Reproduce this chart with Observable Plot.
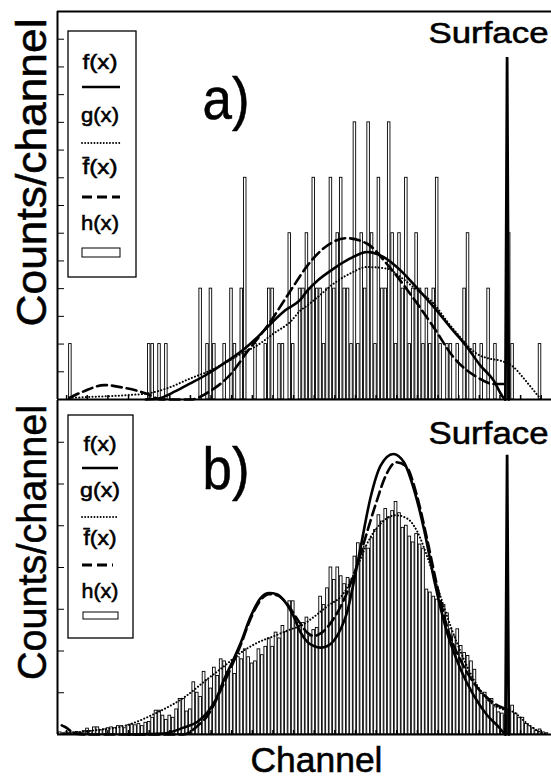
<!DOCTYPE html>
<html><head><meta charset="utf-8">
<script src="https://cdn.jsdelivr.net/npm/d3@7"></script>
<script src="https://cdn.jsdelivr.net/npm/@observablehq/plot@0.6"></script>
<style>
html,body{margin:0;padding:0;background:#fff;overflow:hidden}
#chart svg{display:block}
#chart text{stroke:#000;stroke-width:0.55px}
</style></head><body><div id="chart"></div>
<script>
// ---------- data (x in channel-bin units, y in counts / tick units) ----------
const countsTop = [
 0,0,0,1,0,0,0,0,0,0, 0,0,0,0,0,0,0,0,0,0, 0,0,0,0,0,0,1,1,0,1,
 0,1,0,0,0,0,0,0,0,0, 0,2,0,1,2,1,0,0,1,0, 2,1,0,2,4,0,0,1,0,0,
 1,2,2,0,1,1,0,3,1,0, 2,2,3,2,4,2,2,1,2,4, 2,3,4,2,2,1,5,1,3,2,
 5,3,1,4,2,2,5,3,1,3, 2,4,1,2,3,2,1,2,1,2, 4,1,0,1,1,0,1,0,2,3,
 0,1,0,1,0,2,0,1,0,0, 0,3,1,0,0,0,0,0,0,0, 1,0,0];
const countsBottom = [
 0.05,0.03,0.05,0.03,0.05,0.06,0.04,0.08,0.14,0.08,
 0.17,0.17,0.1,0.12,0.15,0.17,0.15,0.2,0.2,0.15,
 0.22,0.24,0.22,0.25,0.2,0.28,0.3,0.4,0.57,0.57,
 0.45,0.35,0.45,0.4,0.6,0.85,0.85,0.55,0.6,1.25,
 1.0,0.9,1.5,1.3,1.1,1.6,1.4,1.8,1.75,1.5,
 1.6,1.45,1.85,1.8,2.04,1.85,1.7,1.75,2.04,1.9,
 2.1,2.3,2.1,2.44,2.3,2.6,2.45,3.19,3.19,2.67,
 2.6,2.67,2.8,2.35,2.5,2.55,3.3,3.1,3.5,4.0,
 3.7,4.0,3.79,3.6,3.75,3.71,4.26,4.58,4.4,4.5,
 4.45,4.7,4.9,5.25,5.1,5.4,5.2,5.35,5.57,5.3,
 4.95,5.0,4.74,4.6,4.8,4.55,4.45,3.47,3.4,3.3,
 3.23,3.15,3.1,2.9,2.52,2.35,2.52,2.12,1.95,1.88,
 1.75,1.55,1.1,0.97,1.0,0.8,0.85,0.65,0.53,0.5,
 0.45,0.6,0.69,0.5,0.4,0.4,0.25,0.2,0.15,0.08,
 0.12,0.05,0.03];

// f(x) solid, g(x) dotted, fbar(x) dashed — panel a
const fTop = [[25,0],[28,0.01],[33.7,0.15],[38,0.29],[43,0.46],[48,0.66],[53.7,0.91],[57.5,1.12],[61.5,1.37],[65.5,1.6],[70.1,1.8],[72.2,1.97],[75,2.14],[79.8,2.36],[84.5,2.54],[89.6,2.66],[94.4,2.57],[99.3,2.33],[104,2.02],[109,1.67],[114,1.29],[118.8,0.94],[122.5,0.62],[126.5,0.34],[129,0.06],[129.8,0]];
const gTop = [[2.7,0.03],[10,0.05],[20,0.08],[26.5,0.12],[32,0.22],[38,0.38],[43,0.5],[47.9,0.65],[52.7,0.82],[57.6,0.98],[62.5,1.2],[67.3,1.41],[70,1.6],[72.2,1.7],[75,1.84],[79.8,2.09],[84.5,2.27],[89.6,2.39],[95.4,2.36],[99.3,2.21],[104,1.98],[109,1.73],[113,1.4],[116.8,1.12],[119.5,0.93],[121.7,0.82],[125,0.74],[128.5,0.7],[132.4,0.58],[135,0.4],[138.2,0.16],[140.3,0]];
const fbarTop = [[2.7,0.03],[7,0.15],[12.9,0.26],[18.7,0.21],[25.5,0.1],[29.4,0],[38,0],[44,0.16],[49.8,0.46],[54.7,0.87],[60.5,1.33],[67.3,1.97],[72.2,2.42],[76.9,2.73],[83.7,2.91],[89.6,2.81],[95.4,2.44],[102.2,1.9],[109,1.3],[114.8,0.76],[121.7,0.4],[126.5,0.28],[129.6,0.28]];
// panel b
const fBottom = [[20,0],[30,0.02],[36.2,0.17],[40,0.3],[43,0.53],[45.5,0.85],[47.9,1.33],[50.3,1.75],[52.7,2.2],[55.6,2.83],[58.5,3.27],[61,3.39],[63.2,3.36],[65.4,3.2],[68,2.85],[70.1,2.45],[72.1,2.22],[74,2.12],[76,2.08],[78,2.12],[79.9,2.25],[82,2.55],[83.8,2.95],[85.8,3.7],[87.7,4.5],[90.6,5.69],[93.5,6.44],[97.2,6.72],[100.3,6.52],[103.3,5.85],[106.2,4.9],[109.1,3.71],[112.9,2.44],[116.8,1.57],[120.7,0.93],[124.7,0.45],[127.6,0.21],[129.3,0.05],[129.9,0]];
const gBottom = [[1,0.02],[10,0.1],[19,0.21],[28.4,0.53],[36.2,0.89],[43,1.33],[47.9,1.64],[52.7,1.96],[57.6,2.2],[62.5,2.36],[67.3,2.52],[70.2,2.6],[73.1,2.76],[77.9,3.07],[82.8,3.39],[86.7,4.02],[89.6,4.58],[93.5,5.05],[97.9,5.25],[101.3,5.17],[104.2,4.86],[107.1,4.26],[110,3.55],[113.9,2.6],[117.8,1.8],[121.7,1.17],[125.6,0.77],[128.5,0.62],[132.4,0.53],[136.3,0.26],[140.2,0.05],[142,0]];
const fbarBottom = [[0.5,0.22],[1.5,0.18],[4.5,0.02],[8,0],[36,0],[40,0.2],[43,0.45],[47.9,1.25],[52.7,2.15],[55.6,2.78],[58.5,3.22],[61,3.36],[63.5,3.33],[66,3.15],[69.3,2.75],[72,2.45],[74,2.36],[76,2.42],[80,2.8],[82.8,3.23],[86,3.9],[89,4.7],[92,5.5],[95,6.2],[98,6.52],[101,6.42],[104,5.75],[107,4.7],[110,3.55],[113,2.55],[117,1.75],[121,1.2],[125,0.85],[128,0.68],[129.8,0.62]];
// surface peak (channel, height) for each panel
const surfaceChannel = 130.4;
const surfaceHeightTop = 6.18;
const surfaceHeightBottom = 6.7;

const legendLabels = ["f(x)", "g(x)", "f\u0304(x)", "h(x)"];
const panelLabels = ["a)", "b)"];
const surfaceLabel = "Surface";
const yLabel = "Counts/channel";
const xLabel = "Channel";

// ---------- helpers ----------
const xDomain = [-0.76, 143.35];
const xTicks = d3.range(0, 24).map(k => 1.9 + 6.02 * k);
const font = "'Liberation Sans', Arial, Helvetica, sans-serif";
const bars = arr => arr.map((v, i) => ({bin: i, v})).filter(d => d.v > 0);
const peak = h => [[surfaceChannel - 0.5, 0], [surfaceChannel, h], [surfaceChannel + 0.5, 0]];
const P = d => d[0], V = d => d[1];

function curves(f, g, fb, h) {
  return [
    Plot.line(g, {x: P, y: V, curve: "monotone-x", stroke: "black", strokeWidth: 2, strokeDasharray: "0.1,3.2", strokeLinecap: "round"}),
    Plot.line(fb, {x: P, y: V, curve: "monotone-x", stroke: "black", strokeWidth: 2.6, strokeDasharray: "10,5"}),
    Plot.line(f, {x: P, y: V, curve: "monotone-x", stroke: "black", strokeWidth: 2.6}),
    Plot.line(peak(h), {x: P, y: V, stroke: "black", strokeWidth: 2.8, strokeLinejoin: "miter"})
  ];
}
function stretch(svg, map) {
  d3.select(svg).selectAll("text").each(function() {
    const t = this.textContent;
    if (map[t]) { this.setAttribute("textLength", map[t]); this.setAttribute("lengthAdjust", "spacingAndGlyphs"); }
  });
}
function legend(svg, L) {
  const g = d3.select(svg).append("g").attr("font-family", font).attr("font-size", L.fs);
  g.append("rect").attr("x", L.box[0]).attr("y", L.box[1]).attr("width", L.box[2]).attr("height", L.box[3])
    .attr("fill", "white").attr("stroke", "black").attr("stroke-width", 1.3);
  legendLabels.forEach((lab, i) => {
    g.append("text").attr("x", L.cx).attr("y", L.ty[i]).attr("text-anchor", "middle").text(lab)
      .attr("textLength", L.tl[i]).attr("lengthAdjust", "spacingAndGlyphs");
  });
  const [x1, x2] = L.lx;
  g.append("line").attr("x1", x1).attr("x2", x2).attr("y1", L.ly[0]).attr("y2", L.ly[0]).attr("stroke", "black").attr("stroke-width", 2.5);
  g.append("line").attr("x1", x1).attr("x2", x2).attr("y1", L.ly[1]).attr("y2", L.ly[1]).attr("stroke", "black").attr("stroke-width", 1.8).attr("stroke-dasharray", "0.1,3").attr("stroke-linecap", "round");
  g.append("line").attr("x1", x1).attr("x2", L.dx2).attr("y1", L.ly[2]).attr("y2", L.ly[2]).attr("stroke", "black").attr("stroke-width", 2.8).attr("stroke-dasharray", "10,5");
  g.append("rect").attr("x", L.r[0]).attr("y", L.r[1]).attr("width", L.r[2]).attr("height", L.r[3]).attr("fill", "white").attr("stroke", "black").attr("stroke-width", 1);
}

// ---------- panel a ----------
const panelA = Plot.plot({
  width: 551, height: 400, marginLeft: 57, marginRight: 0, marginTop: 11, marginBottom: 1,
  x: {domain: xDomain, axis: null},
  y: {domain: [0, 7], axis: null},
  style: {fontFamily: font, background: "white", overflow: "visible", color: "black"},
  marks: [
    Plot.rectY(bars(countsTop), {x1: d => d.bin - 0.5, x2: d => d.bin + 0.5, y: "v", fill: "white", stroke: "black", strokeWidth: 0.9, insetLeft: 0.45, insetRight: 0.45}),
    ...curves(fTop, gTop, fbarTop, surfaceHeightTop),
    Plot.tickY(d3.range(0.5, 7, 0.5), {y: d => d, insetRight: 487, stroke: "black", strokeWidth: 1}),
    Plot.tickX(xTicks, {x: d => d, insetTop: 384, stroke: "black", strokeWidth: 1.5}),
    Plot.ruleX([xDomain[0]], {stroke: "black", strokeWidth: 2}),
    Plot.ruleY([0], {stroke: "black", strokeWidth: 2}),
    Plot.ruleY([7], {stroke: "black", strokeWidth: 2}),
    Plot.text([panelLabels[0]], {text: d => d, frameAnchor: "top-left", dx: 145, dy: 107, fontSize: 60, textAnchor: "start", lineAnchor: "bottom", fill: "black"}),
    Plot.text([surfaceLabel], {text: d => d, frameAnchor: "top-right", dx: -3, dy: 31, fontSize: 30, textAnchor: "end", lineAnchor: "bottom", fill: "black"}),
    Plot.text([yLabel], {text: d => d, frameAnchor: "left", rotate: -90, dx: -12, dy: -33, fontSize: 42, textAnchor: "middle", lineAnchor: "bottom", fill: "black"})
  ]
});
stretch(panelA, {"Surface": 120, "Counts/channel": 308, "a)": 47});
legend(panelA, {fs: 21, box: [68, 31, 68, 246], cx: 100, ty: [69, 122, 174, 230], tl: [35, 38, 35, 38],
  lx: [82, 120], dx2: 120, ly: [87, 143, 197], r: [82, 248, 38, 9]});

// ---------- panel b ----------
const panelB = Plot.plot({
  width: 551, height: 379, marginLeft: 57, marginRight: 0, marginTop: 0, marginBottom: 45,
  x: {domain: xDomain, axis: null},
  y: {domain: [0, 8], axis: null},
  style: {fontFamily: font, background: "white", overflow: "visible", color: "black"},
  marks: [
    Plot.rectY(bars(countsBottom), {x1: d => d.bin - 0.5, x2: d => d.bin + 0.5, y: "v", fill: "white", stroke: "black", strokeWidth: 0.9, insetLeft: 0.35, insetRight: 0.35}),
    ...curves(fBottom, gBottom, fbarBottom, surfaceHeightBottom),
    Plot.tickY(d3.range(1, 8), {y: d => d, insetRight: 487, stroke: "black", strokeWidth: 1}),
    Plot.tickX(xTicks, {x: d => d, insetTop: 330, stroke: "black", strokeWidth: 1.5}),
    Plot.ruleX([xDomain[0]], {stroke: "black", strokeWidth: 2}),
    Plot.ruleY([0], {stroke: "black", strokeWidth: 2}),
    Plot.text([panelLabels[1]], {text: d => d, frameAnchor: "top-left", dx: 145, dy: 88, fontSize: 60, textAnchor: "start", lineAnchor: "bottom", fill: "black"}),
    Plot.text([surfaceLabel], {text: d => d, frameAnchor: "top-right", dx: -3, dy: 43, fontSize: 32, textAnchor: "end", lineAnchor: "bottom", fill: "black"}),
    Plot.text([yLabel], {text: d => d, frameAnchor: "left", rotate: -90, dx: -12, dy: -25, fontSize: 40, textAnchor: "middle", lineAnchor: "bottom", fill: "black"}),
    Plot.text([xLabel], {text: d => d, frameAnchor: "bottom", dx: 12, dy: 37, fontSize: 35, lineAnchor: "bottom", fill: "black"})
  ]
});
stretch(panelB, {"Surface": 120, "Counts/channel": 275, "b)": 47, "Channel": 132});
legend(panelB, {fs: 21, box: [68, 15, 65, 223], cx: 100, ty: [51, 97, 145, 198], tl: [33, 40, 33, 37],
  lx: [82, 118], dx2: 113, ly: [68, 117, 165], r: [83, 212, 35, 7]});

document.getElementById("chart").append(panelA, panelB);
</script></body></html>
